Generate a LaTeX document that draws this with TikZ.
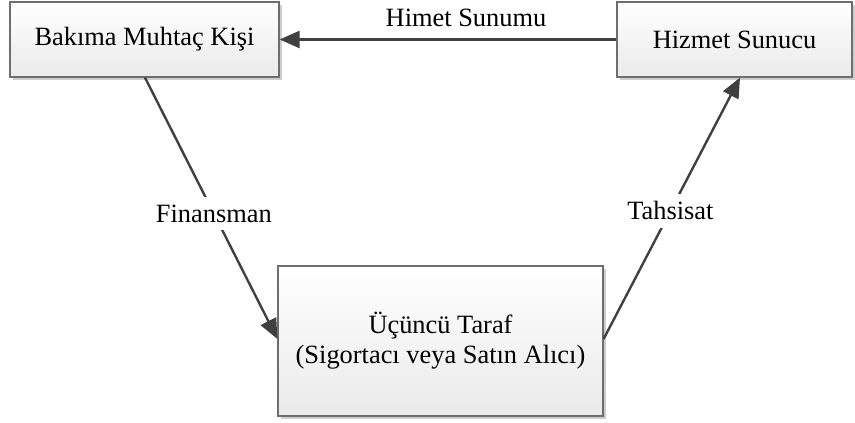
\documentclass[tikz,border=0pt]{standalone}
\usepackage{fontspec}
\setmainfont{Liberation Serif}
\usetikzlibrary{arrows.meta,shadows}
\definecolor{linec}{RGB}{64,64,64}
\definecolor{boxborder}{RGB}{110,110,110}
\definecolor{boxbot}{RGB}{234,234,234}
\definecolor{shadowc}{RGB}{205,205,205}
\tikzset{
  box/.style={draw=boxborder, line width=1.2pt, top color=white, bottom color=boxbot,
    general shadow={fill=shadowc, shadow xshift=3pt, shadow yshift=-3pt},
    inner sep=0pt, align=center, font=\fontsize{26.4}{30}\selectfont},
  arr/.style={draw=linec, line width=2.4pt, -{Triangle[length=20pt,width=17pt]}},
  lbl/.style={fill=white, inner xsep=3pt, inner ysep=8pt, font=\fontsize{26.4}{30}\selectfont}
}
\begin{document}
\begin{tikzpicture}[x=1pt,y=-1pt]
\useasboundingbox (0,0) rectangle (855,423);
\node[box, minimum width=269pt, minimum height=75pt] (b1) at (144.5,39.5) {Bakıma Muhtaç Kişi};
\node[box, minimum width=235pt, minimum height=75pt] (b2) at (734.5,39.5) {Hizmet Sunucu};
\node[box, minimum width=325pt, minimum height=150pt] (b3) at (440.5,341) {Üçüncü Taraf\\(Sigortacı veya Satın Alıcı)};
\draw[arr] (b2.west) -- (b1.east);
\node[font=\fontsize{26.4}{30}\selectfont, inner sep=0pt] (l1) at (466,18) {Himet Sunumu};
\draw[arr] ([xshift=0.5pt]b1.south) -- ([yshift=2pt]b3.west) coordinate[pos=0.52] (m2);
\draw[arr] ([yshift=2pt]b3.east) -- ([xshift=5.5pt]b2.south) coordinate[pos=0.49] (m3);
\node[lbl] (l2) at (m2) {Finansman};
\node[lbl] (l3) at (m3) {Tahsisat};
\end{tikzpicture}
\end{document}
